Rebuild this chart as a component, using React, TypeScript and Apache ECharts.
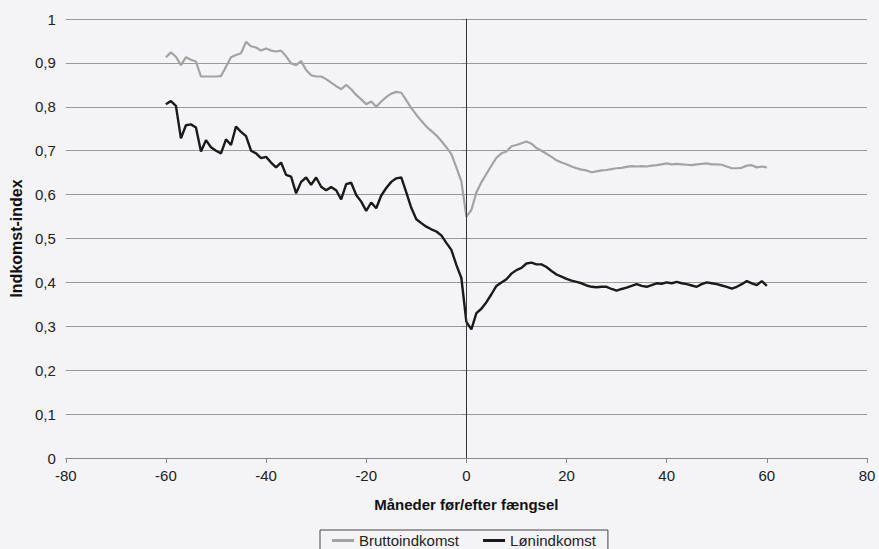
import React, { useEffect, useRef } from "react";
import * as echarts from "echarts";

const months: number[] = [];
for (let m = -60; m <= 60; m++) months.push(m);

const bruttoBefore = [
  0.913, 0.924, 0.914, 0.895, 0.913, 0.907, 0.903, 0.869, 0.869, 0.869, 0.869, 0.87,
  0.891, 0.913, 0.918, 0.922, 0.948, 0.938, 0.935, 0.928, 0.933, 0.928, 0.926, 0.928,
  0.915, 0.899, 0.895, 0.904, 0.884, 0.872, 0.869, 0.869, 0.863, 0.855, 0.847, 0.84,
  0.85, 0.84, 0.827, 0.817, 0.806, 0.812, 0.8, 0.812, 0.822, 0.83,
  0.834, 0.832, 0.815, 0.797, 0.782, 0.768, 0.755, 0.745, 0.735, 0.722, 0.708, 0.692,
  0.662, 0.63, 0.55,
];
const bruttoAfter = [
  0.565, 0.605, 0.628, 0.647, 0.666, 0.684, 0.694, 0.698, 0.71, 0.713, 0.717, 0.721,
  0.716, 0.706, 0.7, 0.693, 0.686, 0.678, 0.673, 0.669,
  0.664, 0.66, 0.657, 0.655, 0.651, 0.653, 0.655, 0.656, 0.658, 0.66, 0.661, 0.663,
  0.665, 0.664, 0.665, 0.664, 0.666, 0.667, 0.669, 0.671, 0.669, 0.67, 0.669, 0.668,
  0.667, 0.669, 0.67, 0.671, 0.669, 0.669, 0.668, 0.664, 0.66, 0.66, 0.661, 0.666,
  0.667, 0.662, 0.664, 0.662,
];
const loenBefore = [
  0.806, 0.813, 0.802, 0.728, 0.758, 0.76, 0.753, 0.698, 0.724, 0.708, 0.7, 0.694,
  0.726, 0.713, 0.755, 0.743, 0.733, 0.7, 0.694, 0.683, 0.686, 0.673, 0.662, 0.673,
  0.645, 0.641, 0.603, 0.629, 0.639, 0.622, 0.639, 0.618, 0.61, 0.617, 0.61, 0.589,
  0.624, 0.627, 0.599, 0.584, 0.563, 0.582, 0.569, 0.598, 0.615, 0.629,
  0.637, 0.639, 0.605, 0.57, 0.544, 0.535, 0.527, 0.521, 0.516, 0.507, 0.49, 0.474,
  0.44, 0.41, 0.31,
];
const loenAfter = [
  0.293, 0.33, 0.34, 0.355, 0.373, 0.392, 0.4, 0.407, 0.42, 0.428, 0.433, 0.443,
  0.445, 0.441, 0.441, 0.435, 0.426, 0.418, 0.413, 0.408, 0.404, 0.401, 0.398, 0.393,
  0.39, 0.389, 0.39, 0.39, 0.385, 0.381, 0.385, 0.388, 0.392, 0.396, 0.392, 0.39,
  0.394, 0.398, 0.397, 0.4, 0.398, 0.401, 0.398, 0.396, 0.393, 0.39, 0.396, 0.4,
  0.398, 0.396, 0.393, 0.39, 0.386, 0.39, 0.396, 0.403, 0.398, 0.394, 0.403, 0.392,
];

const brutto = [...bruttoBefore, ...bruttoAfter];
const loen = [...loenBefore, ...loenAfter];

const FONT = "'Liberation Sans', Arial, sans-serif";

export default function App() {
  const ref = useRef<HTMLDivElement>(null);
  useEffect(() => {
    if (!ref.current) return;
    const chart = echarts.init(ref.current, null, { renderer: "svg" });
    chart.setOption({
      animation: false,
      backgroundColor: "#f4f4f6",
      textStyle: { fontFamily: FONT },
      grid: { left: 63, right: 12, top: 19, bottom: 91 },
      xAxis: {
        type: "value",
        min: -80,
        max: 80,
        interval: 20,
        name: "Måneder før/efter fængsel",
        nameLocation: "middle",
        nameGap: 39,
        nameTextStyle: { fontSize: 15, fontWeight: "bold", color: "#111", fontFamily: FONT },
        axisLine: { show: true, lineStyle: { color: "#888", width: 1 } },
        axisTick: { show: true, length: 5, lineStyle: { color: "#888" } },
        axisLabel: { fontSize: 15, color: "#222", margin: 10, fontFamily: FONT },
        splitLine: { show: false },
      },
      yAxis: {
        type: "value",
        min: 0,
        max: 1,
        interval: 0.1,
        name: "Indkomst-index",
        nameLocation: "middle",
        nameGap: 39,
        nameTextStyle: { fontSize: 16, fontWeight: "bold", color: "#111", fontFamily: FONT },
        axisLine: { show: true, lineStyle: { color: "#888", width: 1 } },
        axisTick: { show: true, length: 5, lineStyle: { color: "#888" } },
        axisLabel: {
          fontSize: 15,
          color: "#222",
          margin: 10,
          fontFamily: FONT,
          formatter: (v: number) => (Math.round(v * 10) / 10).toString().replace(".", ","),
        },
        splitLine: { show: true, lineStyle: { color: "#9a9a9a", width: 1 } },
      },
      legend: {
        left: 320,
        top: 530,
        padding: [3, 12],
        itemGap: 24,
        itemWidth: 22,
        itemHeight: 3,
        borderColor: "#444",
        borderWidth: 1,
        textStyle: { fontSize: 15, color: "#222", fontFamily: FONT },
        data: [
          { name: "Bruttoindkomst", icon: "rect" },
          { name: "Lønindkomst", icon: "rect" },
        ],
      },
      series: [
        {
          name: "Bruttoindkomst",
          type: "line",
          data: months.map((m, i) => [m, brutto[i]]),
          showSymbol: false,
          symbol: "none",
          lineStyle: { color: "#a3a3a3", width: 2.2 },
          itemStyle: { color: "#a3a3a3" },
          markLine: {
            silent: true,
            symbol: "none",
            label: { show: false },
            lineStyle: { color: "#333", width: 1, type: "solid" },
            data: [{ xAxis: 0 }],
          },
        },
        {
          name: "Lønindkomst",
          type: "line",
          data: months.map((m, i) => [m, loen[i]]),
          showSymbol: false,
          symbol: "none",
          lineStyle: { color: "#1a1a1a", width: 2.4 },
          itemStyle: { color: "#1a1a1a" },
        },
      ],
    });
    return () => chart.dispose();
  }, []);
  return (
    <div
      ref={ref}
      style={{ position: "fixed", left: 0, top: 0, width: 879, height: 549 }}
    />
  );
}
